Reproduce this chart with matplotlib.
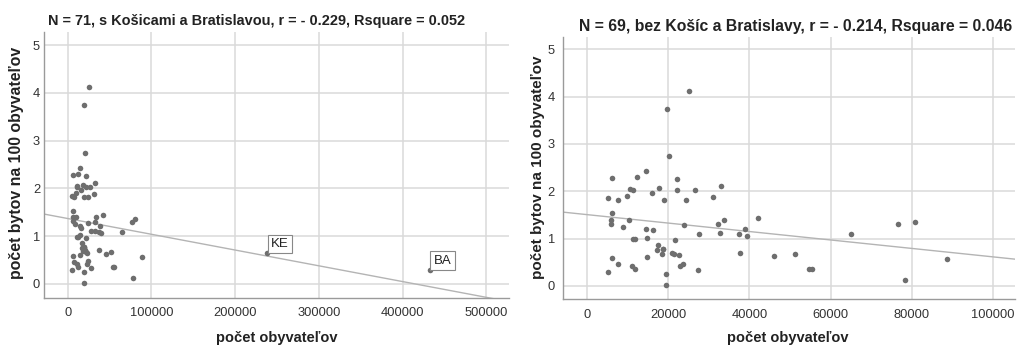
import matplotlib
matplotlib.use("Agg")
import matplotlib.pyplot as plt
import numpy as np

plt.rcParams['font.family'] = ['Liberation Sans', 'DejaVu Sans']

# Towns without Košice and Bratislava: population, flats per 100 inhabitants
population = [5340, 6160, 6320, 5910, 5910, 5170, 6160, 7640, 7640, 9030,
              9850, 10340, 10670, 11330, 12480, 11490, 11820, 11080, 11900, 14700,
              14530, 14860, 14780, 16170, 16260, 17900, 18960, 17570, 17320, 18880,
              18640, 19790, 20200, 19460, 19540, 20940, 21510, 21760, 22330, 22330,
              22660, 22910, 23730, 23970, 24470, 25040, 26520, 27420, 27670, 30950,
              32270, 32840, 33090, 33830, 37360, 37770, 38920, 39490, 42120, 45980,
              51230, 54600, 55340, 65110, 76680, 78410, 80870, 88750, 18880]
flats = [1.85, 2.27, 1.53, 1.39, 1.31, 0.29, 0.59, 1.81, 0.45, 1.25,
         1.90, 1.40, 2.04, 2.02, 2.31, 0.98, 0.99, 0.42, 0.35, 2.43,
         1.21, 1.02, 0.61, 1.97, 1.17, 2.06, 1.81, 0.86, 0.76, 0.78,
         0.68, 3.74, 2.75, 0.25, 0.01, 0.70, 0.67, 0.96, 2.26, 2.03,
         0.65, 0.42, 0.47, 1.28, 1.81, 4.13, 2.03, 0.33, 1.10, 1.88,
         1.30, 1.11, 2.12, 1.39, 1.09, 0.70, 1.21, 1.06, 1.44, 0.63,
         0.67, 0.35, 0.35, 1.09, 1.30, 0.12, 1.35, 0.56, 0.78]

# Košice and Bratislava
big_labels = ['KE', 'BA']
big_population = [238500, 432900]
big_flats = [0.64, 0.29]

# fitted lines (intercept, slope)
fit_all = (1.368, -3.30e-6)
fit_small = (1.506, -8.95e-6)

titles = ['N = 71, s Košicami a Bratislavou, r = - 0.229, Rsquare = 0.052',
          'N = 69, bez Košíc a Bratislavy, r = - 0.214, Rsquare = 0.046']
xlabel = 'počet obyvateľov'
ylabel = 'počet bytov na 100 obyvateľov'
xticks_left = [0, 100000, 200000, 300000, 400000, 500000]
xticks_right = [0, 20000, 40000, 60000, 80000, 100000]
yticks = [0, 1, 2, 3, 4, 5]

W, H = 1018, 345
fig = plt.figure(figsize=(W / 100, H / 100), dpi=100)

def px_axes(l, t, r, b):
    return fig.add_axes([l / W, 1 - b / H, (r - l) / W, (b - t) / H])

axL = px_axes(44.3, 31.7, 509.3, 297.7)
axR = px_axes(563.3, 36.7, 1015, 299)

pt_color = '#6e6e6e'
grid_color = '#dadada'
line_color = '#b4b4b4'

def style(ax, xticks, xlim, ylim, ypad):
    ax.set_xlim(*xlim)
    ax.set_ylim(*ylim)
    ax.set_xticks(xticks)
    ax.set_xticklabels([str(v) for v in xticks])
    ax.set_yticks(yticks)
    ax.grid(True, color=grid_color, linewidth=1.1)
    ax.set_axisbelow(True)
    for s in ['top', 'right']:
        ax.spines[s].set_visible(False)
    for s in ['left', 'bottom']:
        ax.spines[s].set_color('#9a9a9a')
        ax.spines[s].set_linewidth(1.0)
    ax.tick_params(axis='both', length=0, labelsize=9.3, colors='#333333')
    ax.tick_params(axis='x', pad=7)
    ax.tick_params(axis='y', pad=ypad)

# Left panel
allx = population + big_population
ally = flats + big_flats
axL.scatter(allx, ally, s=16, color=pt_color, linewidths=0, zorder=3)
xl = np.array([-28000, 527600])
axL.plot(xl, fit_all[0] + fit_all[1] * xl, color=line_color, lw=1.0, zorder=2)
for lab, x, y in zip(big_labels, big_population, big_flats):
    axL.annotate(lab, (x, y), xytext=(2.5, 2.5), textcoords='offset points',
                 ha='left', va='bottom', fontsize=9.5, color='#222222',
                 bbox=dict(boxstyle='square,pad=0.25', fc='white', ec='#888888', lw=0.8),
                 zorder=4)
style(axL, xticks_left, (-28000, 527600), (-0.29, 5.28), 3)

# Right panel
axR.scatter(population, flats, s=16, color=pt_color, linewidths=0, zorder=3)
xr = np.array([-5760, 105360])
axR.plot(xr, fit_small[0] + fit_small[1] * xr, color=line_color, lw=1.0, zorder=2)
style(axR, xticks_right, (-5760, 105360), (-0.28, 5.27), 6)

# titles and axis labels
tkw = dict(fontweight='bold', color='#222222')
fig.text(257 / W, 1 - 20.7 / H, titles[0], ha='center', va='center', fontsize=10.45, **tkw)
fig.text(796 / W, 1 - 26 / H, titles[1], ha='center', va='center', fontsize=11.3, **tkw)
fig.text(276.7 / W, 1 - 338 / H, xlabel, ha='center', va='center', fontsize=10.5, **tkw)
fig.text(788 / W, 1 - 338 / H, xlabel, ha='center', va='center', fontsize=10.5, **tkw)
fig.text(16.7 / W, 1 - 163 / H, ylabel, ha='center', va='center', rotation=90, fontsize=11.4, **tkw)
fig.text(538 / W, 1 - 167 / H, ylabel, ha='center', va='center', rotation=90, fontsize=11, **tkw)

fig.savefig('out.png', dpi=100, facecolor='white')
